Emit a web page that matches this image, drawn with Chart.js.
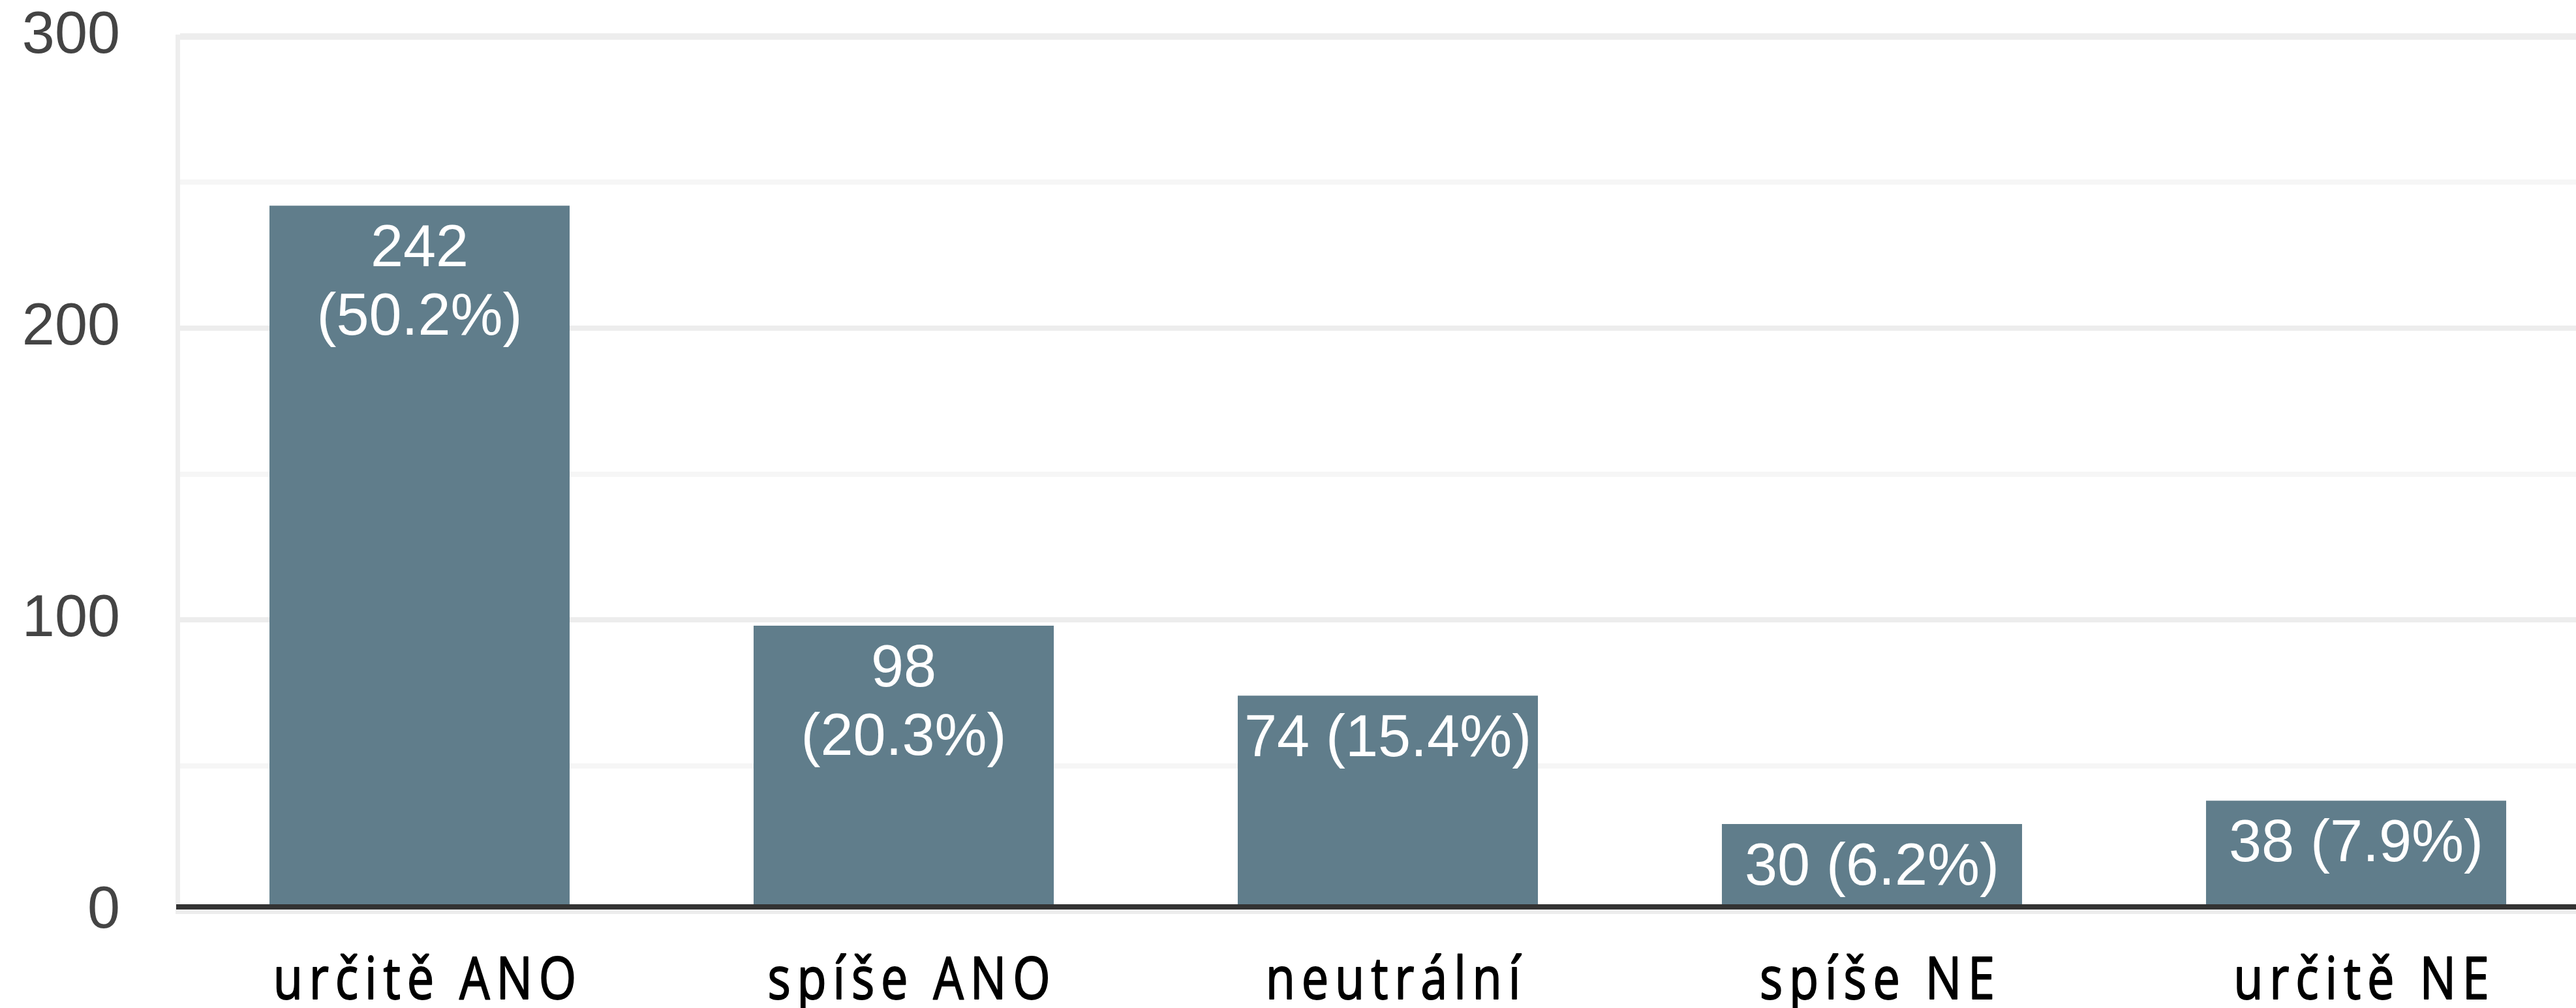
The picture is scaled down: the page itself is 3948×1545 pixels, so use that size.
<!DOCTYPE html>
<html>
<head>
<meta charset="utf-8">
<script src="https://cdn.jsdelivr.net/npm/chart.js@4/dist/chart.umd.min.js"></script>
<style>
  html, body { margin: 0; padding: 0; background: #fff; overflow: hidden; }
  canvas { display: block; }
</style>
</head>
<body>
<canvas id="myChart" width="3990" height="1545"></canvas>
<script>
// categories and values
var categories = ['určitě ANO', 'spíše ANO', 'neutrální', 'spíše NE', 'určitě NE']
var counts = [242, 98, 74, 30, 38]
var shares = [50.2, 20.3, 15.4, 6.2, 7.9]

// y axis: 0..300, grid every 50, label every 100
var yMin = 0
var yMax = 300
var yStep = 50
var yLabelStep = 100

// labels inside the bars (count + share)
var valueLabels = {
    id: 'valueLabels',
    afterDatasetsDraw: function (chart) {
        var ctx = chart.ctx
        var area = chart.chartArea
        var y0 = chart.scales.y.getPixelForValue(0)

        // dark base line, sits just above the zero grid line
        ctx.save()
        ctx.fillStyle = '#333333'
        ctx.fillRect(area.left - 2, y0 - 11, area.right - area.left + 2, 8)
        ctx.restore()

        var meta = chart.getDatasetMeta(0)
        ctx.save()
        ctx.font = '90px "Liberation Sans", Arial, sans-serif'
        ctx.fillStyle = '#ffffff'
        ctx.textAlign = 'center'
        ctx.textBaseline = 'alphabetic'
        meta.data.forEach(function (bar, i) {
            var a = counts[i] + ''
            var b = '(' + shares[i].toFixed(1) + '%)'
            var first = bar.y + 93
            //tall bars get two lines
            if (bar.base - bar.y > 380) {
                ctx.fillText(a, bar.x, first)
                ctx.fillText(b, bar.x, first + 105)
            } else {
                ctx.fillText(a + ' ' + b, bar.x, first)
            }
        })
        ctx.restore()
    }
}

// category names under the axis, narrow and spaced out
var categoryLabels = {
    id: 'categoryLabels',
    afterDraw: function (chart) {
        var ctx = chart.ctx
        var x = chart.scales.x
        ctx.save()
        ctx.font = '90px "Open Sans", "Noto Sans", sans-serif'
        ctx.fillStyle = '#000000'
        ctx.strokeStyle = '#000000'
        ctx.lineWidth = 2
        ctx.lineJoin = 'round'
        ctx.textAlign = 'center'
        ctx.textBaseline = 'alphabetic'
        ctx.letterSpacing = '12px'
        chart.data.labels.forEach(function (lab, i) {
            ctx.save()
            ctx.translate(x.getPixelForTick(i) + 8, x.top + 134)
            ctx.scale(0.82, 1)
            ctx.fillText(lab, 6, 0)
            ctx.strokeText(lab, 6, 0)
            ctx.restore()
        })
        ctx.restore()
    }
}

let myChart = document.getElementById('myChart').getContext('2d');
let barChart = new Chart(myChart, {
    type: 'bar',
    data: {
        labels: categories,
        datasets: [{
            data: counts,
            backgroundColor: '#607d8b',
            borderWidth: 0,
            barPercentage: 0.62,
            categoryPercentage: 1
        }]
    },
    options: {
        responsive: false,
        devicePixelRatio: 1,
        animation: false,
        layout: {
            padding: { top: 56, right: 8, bottom: 0, left: 0 }
        },
        plugins: {
            legend: { display: false },
            tooltip: { enabled: false }
        },
        scales: {
            x: {
                grid: { display: false },
                border: { display: false },
                ticks: { display: false },
                afterFit: function (scale) { scale.height = 148 }
            },
            y: {
                min: yMin,
                max: yMax,
                border: { display: true, color: '#eeeeee', width: 7 },
                grid: {
                    drawTicks: false,
                    color: function (c) {
                        return c.tick && c.tick.value % yLabelStep === 0 ? '#ededed' : '#f6f6f6'
                    },
                    lineWidth: function (c) {
                        return c.tick && c.tick.value === yMax ? 10 : 8
                    }
                },
                ticks: {
                    stepSize: yStep,
                    padding: 88,
                    color: '#444444',
                    font: { family: '"Liberation Sans", Arial, sans-serif', size: 90, lineHeight: 1 },
                    callback: function (v) {
                        return v % yLabelStep === 0 ? v : ''
                    }
                },
                afterFit: function (scale) {
                    scale.width = 272
                    // the tick padding is horizontal only, don't let it push the plot down
                    scale.paddingTop = 45
                    scale.paddingBottom = 45
                }
            }
        }
    },
    plugins: [valueLabels, categoryLabels]
});
</script>
</body>
</html>
